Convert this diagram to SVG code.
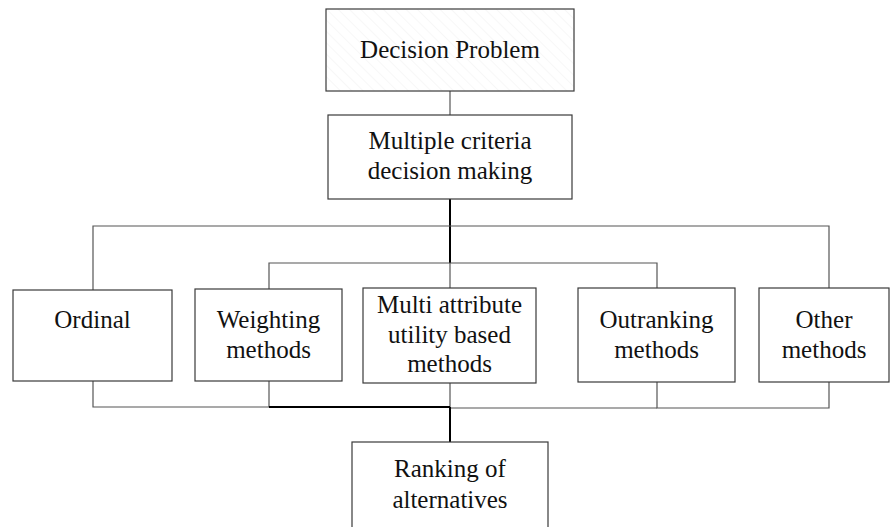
<svg xmlns="http://www.w3.org/2000/svg" width="890" height="527" viewBox="0 0 890 527">
<defs>
<pattern id="hatch" width="8" height="8" patternUnits="userSpaceOnUse" patternTransform="rotate(-45)">
<rect width="8" height="8" fill="#ffffff"/>
<line x1="0" y1="0" x2="0" y2="8" stroke="#f0f0f0" stroke-width="1"/>
</pattern>
</defs>
<style>
.box{fill:#ffffff;stroke:#3a3a3a;stroke-width:1.2}
.c{fill:none;stroke:#555;stroke-width:1.2}
.k{fill:none;stroke:#000;stroke-width:2}
</style>
<rect width="890" height="527" fill="#ffffff"/>
<g id="connectors">
<path class="c" d="M450 91V115"/>
<path class="k" d="M450 199V263"/>
<path class="c" d="M93 290V226H829V288"/>
<path class="c" d="M269 289V263H657V288"/>
<path class="c" d="M450 263V288"/>
<path class="c" d="M93 381V407H450"/>
<path class="c" d="M269 381V407"/>
<path class="c" d="M450 383V407"/>
<path class="c" d="M657 382V408H829V382"/>
<path class="c" d="M450 408H657"/>
<path class="k" d="M269 407H450"/>
<path class="k" d="M450 407V442"/>
</g>
<g id="decision-problem">
<rect x="326" y="9" width="248" height="82" fill="url(#hatch)" stroke="#3a3a3a" stroke-width="1.2"/>
<text font-family="Liberation Serif" font-size="25" fill="#111" text-anchor="middle" x="450" y="58">Decision Problem</text>
</g>
<g id="mcdm">
<rect class="box" x="328" y="115" width="244" height="84"/>
<text font-family="Liberation Serif" font-size="25" fill="#111" text-anchor="middle" x="450" y="149">Multiple criteria</text>
<text font-family="Liberation Serif" font-size="25" fill="#111" text-anchor="middle" x="450" y="179">decision making</text>
</g>
<g id="ordinal">
<rect class="box" x="13" y="290" width="159" height="91"/>
<text font-family="Liberation Serif" font-size="25" fill="#111" text-anchor="middle" x="92.5" y="328">Ordinal</text>
</g>
<g id="weighting">
<rect class="box" x="195" y="289" width="147" height="92"/>
<text font-family="Liberation Serif" font-size="25" fill="#111" text-anchor="middle" x="268.5" y="328">Weighting</text>
<text font-family="Liberation Serif" font-size="25" fill="#111" text-anchor="middle" x="268.5" y="358">methods</text>
</g>
<g id="multi-attribute">
<rect class="box" x="363" y="288" width="173" height="95"/>
<text font-family="Liberation Serif" font-size="25" fill="#111" text-anchor="middle" x="449.5" y="313">Multi attribute</text>
<text font-family="Liberation Serif" font-size="25" fill="#111" text-anchor="middle" x="449.5" y="343">utility based</text>
<text font-family="Liberation Serif" font-size="25" fill="#111" text-anchor="middle" x="449.5" y="372">methods</text>
</g>
<g id="outranking">
<rect class="box" x="578" y="288" width="157" height="94"/>
<text font-family="Liberation Serif" font-size="25" fill="#111" text-anchor="middle" x="656.5" y="328">Outranking</text>
<text font-family="Liberation Serif" font-size="25" fill="#111" text-anchor="middle" x="656.5" y="358">methods</text>
</g>
<g id="other">
<rect class="box" x="759" y="288" width="130" height="94"/>
<text font-family="Liberation Serif" font-size="25" fill="#111" text-anchor="middle" x="824" y="328">Other</text>
<text font-family="Liberation Serif" font-size="25" fill="#111" text-anchor="middle" x="824" y="358">methods</text>
</g>
<g id="ranking">
<rect class="box" x="352" y="442" width="196" height="90"/>
<text font-family="Liberation Serif" font-size="25" fill="#111" text-anchor="middle" x="450" y="477">Ranking of</text>
<text font-family="Liberation Serif" font-size="25" fill="#111" text-anchor="middle" x="450" y="508">alternatives</text>
</g>
</svg>
